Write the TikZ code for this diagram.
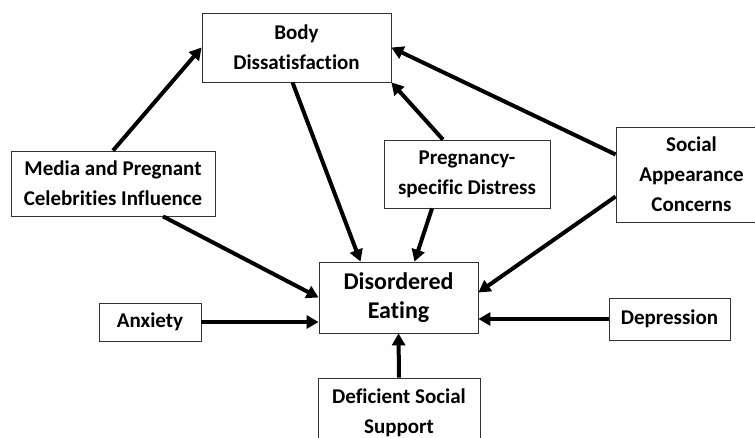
\documentclass[tikz,border=0pt]{standalone}
\usepackage{fontspec}
\setmainfont{Carlito}[RawFeature={-liga}]
\usetikzlibrary{arrows.meta, positioning, calc}

\begin{document}
\begin{tikzpicture}[x=1pt, y=-1pt,
  font=\bfseries\fontsize{21}{30}\selectfont,
  box/.style={draw=black!80, line width=0.8pt, align=center, inner sep=0pt,
              fill=white},
  a/.style={-{Triangle[length=12pt, width=13pt]}, line width=4pt}]
\useasboundingbox (0,0) rectangle (755,438);
\node[box, minimum width=189pt, minimum height=69pt] (body) at (296.5,47.5)
  {Body\\Dissatisfaction};
\node[box, minimum width=204pt, minimum height=65pt] (media) at (113,183.5)
  {Media and Pregnant\\Celebrities Influence};
\node[box, minimum width=166pt, minimum height=68pt] (distress) at (467,174)
  {Pregnancy-\\specific Distress};
\node[box, minimum width=151pt, minimum height=95pt] (social) at (691.5,174.5)
  {Social\\Appearance\\Concerns};
\node[box, minimum width=159pt, minimum height=71pt,
      font=\bfseries\fontsize{24}{29}\selectfont] (eating) at (398.5,297.5)
  {Disordered\\Eating};
\node[box, minimum width=102pt, minimum height=38pt] (anxiety) at (150,322)
  {Anxiety};
\node[box, minimum width=121pt, minimum height=42pt] (depression) at (669.5,319)
  {Depression};
\node[box, minimum width=162pt, minimum height=70pt] (support) at (399,413)
  {Deficient Social\\Support};
% paths into body dissatisfaction
\draw[a] (media.north) -- (body.west);
\draw[a] ([yshift=20pt]social.west) -- (body.east);
\draw[a] ([xshift=-24pt]distress.north) -- (body.south east);
% paths into disordered eating
\draw[a] ([xshift=-4pt]body.south) -- ([xshift=-38pt]eating.north);
\draw[a] ([xshift=-35pt]distress.south) -- ([xshift=16pt]eating.north);
\draw[a] ([xshift=50pt]media.south) -- (eating.west);
\draw[a] ([yshift=-22pt]social.west) -- ([yshift=5pt]eating.east);
\draw[a] (anxiety.east) -- (anxiety.east -| eating.west);
\draw[a] (depression.west) -- (depression.west -| eating.east);
\draw[a] (support.north) -- (eating.south);
\end{tikzpicture}
\end{document}
